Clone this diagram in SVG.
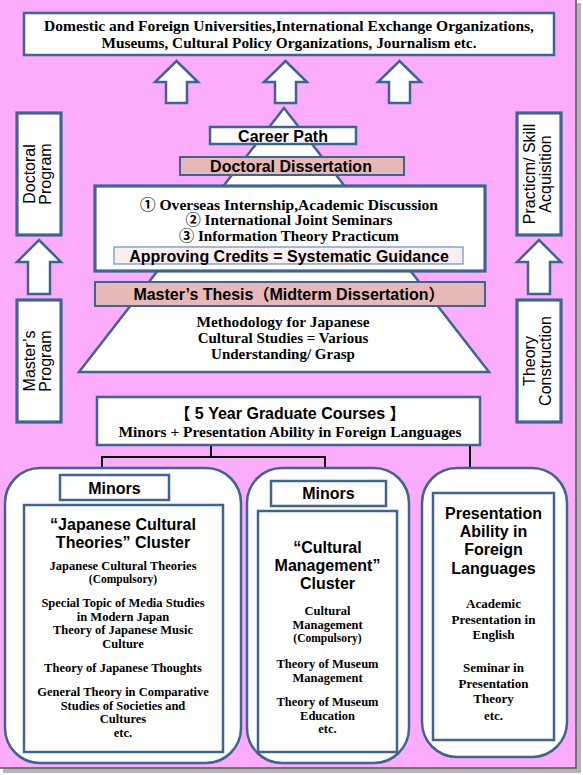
<svg xmlns="http://www.w3.org/2000/svg" width="583" height="775" viewBox="0 0 583 775">
<style>
.b{fill:#fff;stroke:#41648f;stroke-width:2.5}
.bt{fill:#fff;stroke:#41648f;stroke-width:3.2}
.r{fill:#e6b9b8;stroke:#41648f;stroke-width:2}
.ar{fill:#fff;stroke:#41648f;stroke-width:2.5;stroke-linejoin:miter}
.s{font-family:"Liberation Serif","Noto Sans CJK JP",serif;font-weight:bold;text-anchor:middle;fill:#000}
.h{font-family:"Liberation Sans","Noto Sans CJK JP",sans-serif;font-weight:bold;text-anchor:middle;fill:#000}
.v{font-family:"Liberation Sans",sans-serif;font-size:16px;text-anchor:middle;fill:#000}
.c{fill:none;stroke:#000;stroke-width:2}
.f15{font-size:15px}.f13{font-size:13px}.f12{font-size:12.5px}.f11{font-size:11.5px}
.t16{font-size:16px}
</style>
<defs>
<path id="upTop" d="M0,-21 L21.5,0 L10.5,0 L10.5,21 L-10.5,21 L-10.5,0 L-21.5,0 Z"/>
<path id="upSide" d="M0,-11 L22,11 L11,11 L11,43 L-11,43 L-11,11 L-22,11 Z"/>
</defs>
<g id="background">
<rect x="3" y="3" width="578" height="770" fill="#b4b4b4"/>
<rect x="0" y="0" width="576" height="768" fill="#fbadfb"/>
<path d="M576,0 V768 H0" fill="none" stroke="#555" stroke-width="1.5"/>
</g>
<g id="destinations">
<rect class="b" x="24" y="13" width="530" height="42"/>
<text class="s f15" x="289" y="31" textLength="490" lengthAdjust="spacingAndGlyphs">Domestic and Foreign Universities,International Exchange Organizations,</text>
<text class="s f15" x="289" y="48" textLength="375" lengthAdjust="spacingAndGlyphs">Museums, Cultural Policy Organizations, Journalism etc.</text>
</g>
<g id="connectors">
<use href="#upTop" class="ar" x="176.5" y="82"/>
<use href="#upTop" class="ar" x="285.5" y="82"/>
<use href="#upTop" class="ar" x="399.5" y="82"/>
<use href="#upSide" class="ar" x="39" y="251"/>
<use href="#upSide" class="ar" x="539" y="251"/>
<path class="c" d="M211,445 V457 M102,469 V457 H325 V469 M470,445 V469"/>
</g>
<g id="pyramid">
<polygon class="b" points="284,108 79,372 489,372"/>
</g>
<g id="career-path">
<rect class="b" x="210" y="127" width="146" height="17"/>
<text class="h t16" x="283" y="141.5">Career Path</text>
</g>
<g id="doctoral-dissertation">
<rect class="r" x="180" y="157" width="224" height="18"/>
<text class="h t16" x="291" y="172">Doctoral Dissertation</text>
</g>
<g id="doctoral-activities">
<rect class="bt" x="95" y="186" width="390" height="85"/>
<text class="s f15" x="289" y="209.5" textLength="298" lengthAdjust="spacingAndGlyphs">① Overseas Internship,Academic Discussion</text>
<text class="s f15" x="289" y="225" textLength="207" lengthAdjust="spacingAndGlyphs">② International Joint Seminars</text>
<text class="s f15" x="289" y="241" textLength="220" lengthAdjust="spacingAndGlyphs">③ Information Theory Practicum</text>
</g>
<g id="approving-credits">
<rect x="114" y="247" width="349" height="17" fill="#fbeeee" stroke="#6d8fbf" stroke-width="1.2"/>
<text class="h t16" x="289" y="261.5">Approving Credits = Systematic Guidance</text>
</g>
<g id="masters-thesis">
<rect class="r" x="95" y="282" width="390" height="24"/>
<text class="h t16" x="289" y="300">Master’s Thesis（Midterm Dissertation）</text>
</g>
<g id="methodology">
<text class="s f15" x="283" y="327" textLength="173" lengthAdjust="spacingAndGlyphs">Methodology for Japanese</text>
<text class="s f15" x="283" y="343">Cultural Studies = Various</text>
<text class="s f15" x="283" y="359">Understanding/ Grasp</text>
</g>
<g id="doctoral-program">
<rect class="bt" x="17" y="113" width="44" height="122"/>
<text class="v" transform="translate(34.5,174) rotate(-90)">Doctoral</text>
<text class="v" transform="translate(50.5,174) rotate(-90)">Program</text>
</g>
<g id="masters-program">
<rect class="bt" x="17" y="300" width="44" height="122"/>
<text class="v" transform="translate(34.5,361) rotate(-90)">Master’s</text>
<text class="v" transform="translate(50.5,361) rotate(-90)">Program</text>
</g>
<g id="practicum">
<rect class="bt" x="517" y="113" width="44" height="122"/>
<text class="v" transform="translate(534.5,174) rotate(-90)">Practicm/ Skill</text>
<text class="v" transform="translate(550.5,174) rotate(-90)">Acquisition</text>
</g>
<g id="theory-construction">
<rect class="bt" x="517" y="300" width="44" height="122"/>
<text class="v" transform="translate(534.5,361) rotate(-90)">Theory</text>
<text class="v" transform="translate(550.5,361) rotate(-90)">Construction</text>
</g>
<g id="graduate-courses">
<rect class="b" x="97" y="397" width="383" height="48"/>
<text class="h t16" x="290" y="419">【 5 Year Graduate Courses 】</text>
<text class="s f15" x="290" y="437" textLength="343" lengthAdjust="spacingAndGlyphs">Minors + Presentation Ability in Foreign Languages</text>
</g>
<g id="japanese-cultural-theories">
<rect class="b" x="5" y="468" width="236" height="295" rx="35"/>
<rect class="b" x="60" y="475" width="109" height="25" stroke-width="2"/>
<text class="h t16" x="114.5" y="493.5">Minors</text>
<rect class="b" x="24" y="505" width="199" height="247" stroke-width="2"/>
<text class="h t16" x="123" y="529.5">“Japanese Cultural</text>
<text class="h t16" x="123" y="547.7">Theories” Cluster</text>
<text class="s f12" x="123" y="570.4">Japanese Cultural Theories</text>
<text class="s f11" x="123" y="583.4">(Compulsory)</text>
<text class="s f12" x="123" y="607.4">Special Topic of Media Studies</text>
<text class="s f12" x="123" y="620.9">in Modern Japan</text>
<text class="s f12" x="123" y="634.4">Theory of Japanese Music</text>
<text class="s f12" x="123" y="647.9">Culture</text>
<text class="s f12" x="123" y="671.9">Theory of Japanese Thoughts</text>
<text class="s f12" x="123" y="696.4">General Theory in Comparative</text>
<text class="s f12" x="123" y="709.9">Studies of Societies and</text>
<text class="s f12" x="123" y="723.4">Cultures</text>
<text class="s f12" x="123" y="736.9">etc.</text>
</g>
<g id="cultural-management">
<rect class="b" x="247" y="468" width="162" height="295" rx="35"/>
<rect class="b" x="271" y="481" width="115" height="25" stroke-width="2"/>
<text class="h t16" x="328.5" y="499">Minors</text>
<rect class="b" x="258" y="511" width="139" height="241" stroke-width="2"/>
<text class="h t16" x="327.5" y="552.6">“Cultural</text>
<text class="h t16" x="327.5" y="570.8">Management”</text>
<text class="h t16" x="327.5" y="589">Cluster</text>
<text class="s f12" x="327.5" y="615.4">Cultural</text>
<text class="s f12" x="327.5" y="628.9">Management</text>
<text class="s f11" x="327.5" y="641.9">(Compulsory)</text>
<text class="s f12" x="327.5" y="668.4">Theory of Museum</text>
<text class="s f12" x="327.5" y="681.9">Management</text>
<text class="s f12" x="327.5" y="706.4">Theory of Museum</text>
<text class="s f12" x="327.5" y="719.9">Education</text>
<text class="s f12" x="327.5" y="733.4">etc.</text>
</g>
<g id="foreign-languages">
<rect class="b" x="422" y="468" width="145" height="289" rx="35"/>
<rect class="b" x="433" y="493" width="121" height="247" stroke-width="2"/>
<text class="h t16" x="493.5" y="519">Presentation</text>
<text class="h t16" x="493.5" y="537.2">Ability in</text>
<text class="h t16" x="493.5" y="555.4">Foreign</text>
<text class="h t16" x="493.5" y="573.6">Languages</text>
<text class="s f13" x="493.5" y="607.5">Academic</text>
<text class="s f13" x="493.5" y="623.5">Presentation in</text>
<text class="s f13" x="493.5" y="638.5">English</text>
<text class="s f13" x="493.5" y="671.5">Seminar in</text>
<text class="s f13" x="493.5" y="687.5">Presentation</text>
<text class="s f13" x="493.5" y="702.5">Theory</text>
<text class="s f13" x="493.5" y="719.5">etc.</text>
</g>
</svg>
